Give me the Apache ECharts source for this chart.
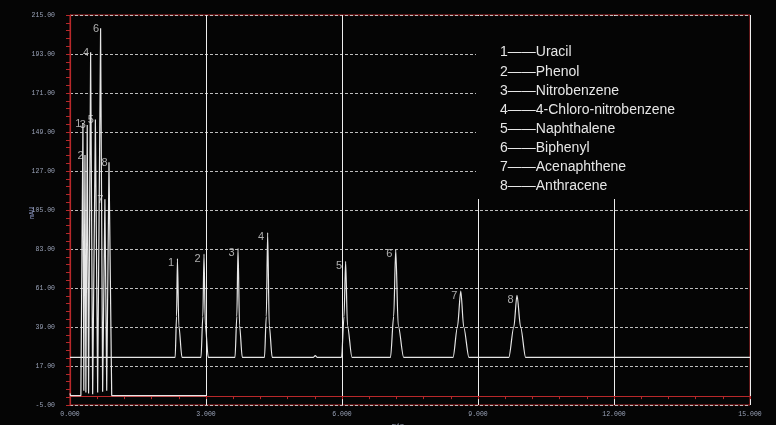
<!DOCTYPE html>
<html>
<head>
<meta charset="utf-8">
<script src="https://cdn.jsdelivr.net/npm/echarts@6/dist/echarts.min.js"></script>
<style>
  html, body { margin: 0; padding: 0; background: #050505; }
  #chart { width: 776px; height: 425px; }
</style>
</head>
<body>
<div id="chart"></div>
<script>
// Peak numbers and compound names
const peakNames = ['1', '2', '3', '4', '5', '6', '7', '8'];
const compounds = ['Uracil', 'Phenol', 'Nitrobenzene', '4-Chloro-nitrobenzene',
  'Naphthalene', 'Biphenyl', 'Acenaphthene', 'Anthracene'];

// Axis ticks and titles
const xTicks = [0, 3, 6, 9, 12, 15];
const yTicks = [-5, 17, 39, 61, 83, 105, 127, 149, 171, 193, 215];
const xTitle = 'min';
const yTitle = 'mAU';

// Fast run (min, mAU)
const fastPeakTime = [0.285, 0.33, 0.38, 0.455, 0.56, 0.675, 0.77, 0.86];
const fastPeakHeight = [154, 136, 153, 194, 156, 207.5, 111, 132];
const fastValleyTime = [0.24, 0.305, 0.35, 0.41, 0.50, 0.61, 0.72, 0.81, 0.92];
const fastValleyHeight = [0.3, 3, 2, 1.5, 1, 2, 2.5, 3, 0.3];
const fastStart = [[0, 1.5], [0.01, 0.3]];
const fastEnd = [[3.0, 0.3]];

// Slow run (min, mAU)
const slowBaseline = 21.9;
const slowPeakTime = [2.37, 2.956, 3.706, 4.36, 6.08, 7.185, 8.62, 9.86];
const slowPeakHeight = [77.6, 80.1, 83.3, 92.3, 76.1, 82.7, 59.3, 56.9];
const slowPeakStart = [2.32, 2.89, 3.64, 4.29, 5.99, 7.07, 8.45, 9.68];
const slowPeakEnd = [2.47, 3.05, 3.80, 4.46, 6.22, 7.36, 8.80, 10.05];
const slowLeftFlankTime = [2.35, 2.93, 3.68, 4.33, 6.045, 7.14, 8.546, 9.79];
const slowLeftFlankHeight = [45, 45, 45, 45, 45, 45, 39, 39];
const slowRightFlankTime = [2.40, 2.985, 3.74, 4.395, 6.12, 7.24, 8.685, 9.94];
const slowRightFlankHeight = [40, 40, 40, 40, 40, 40, 39, 39];
const slowBump = [[5.37, 21.9], [5.41, 22.9], [5.45, 21.9]];

// Build the fast trace: valleys interleaved with apexes
const fastTrace = fastStart.slice();
for (let i = 0; i < fastPeakTime.length; i++) {
  fastTrace.push([fastValleyTime[i], fastValleyHeight[i]]);
  fastTrace.push([fastPeakTime[i], fastPeakHeight[i]]);
}
fastTrace.push([fastValleyTime[fastPeakTime.length], fastValleyHeight[fastPeakTime.length]]);
fastEnd.forEach(p => fastTrace.push(p));

// Build the slow trace
const slowTrace = [[0, slowBaseline]];
for (let i = 0; i < slowPeakTime.length; i++) {
  if (i === 4) slowBump.forEach(p => slowTrace.push(p));
  slowTrace.push([slowPeakStart[i], slowBaseline]);
  slowTrace.push([slowLeftFlankTime[i], slowLeftFlankHeight[i]]);
  slowTrace.push([slowPeakTime[i], slowPeakHeight[i]]);
  slowTrace.push([slowRightFlankTime[i], slowRightFlankHeight[i]]);
  slowTrace.push([slowPeakEnd[i], slowBaseline]);
}
slowTrace.push([15, slowBaseline]);

const fastLabels = fastPeakTime.map((t, i) => ({ value: [t, fastPeakHeight[i]], name: peakNames[i] }));
const slowLabels = slowPeakTime.map((t, i) => ({ value: [t, slowPeakHeight[i]], name: peakNames[i] }));

const legendText = peakNames.map((n, i) => n + '\u2014\u2014' + compounds[i]).join('\n');

const red = '#b8282a';
const tickColor = '#9aa3b8';
const tickFont = { color: tickColor, fontSize: 6.5, fontFamily: 'Liberation Mono' };

const chart = echarts.init(document.getElementById('chart'));
chart.setOption({
  backgroundColor: '#050505',
  animation: false,
  grid: { left: 70, right: 26, top: 15, bottom: 20, show: true, borderColor: red, borderWidth: 1,
    outerBoundsMode: 'none', containLabel: false },
  xAxis: {
    type: 'value', min: xTicks[0], max: xTicks[xTicks.length - 1], interval: xTicks[1] - xTicks[0],
    axisLine: { lineStyle: { color: red, width: 1.2 } },
    axisTick: { lineStyle: { color: red }, length: 3 },
    minorTick: { show: true, splitNumber: 5, length: 3, lineStyle: { color: red } },
    axisLabel: Object.assign({ margin: 6, formatter: v => v.toFixed(3) }, tickFont),
    splitLine: { show: true, lineStyle: { color: '#eeeeee', width: 1 } }
  },
  yAxis: {
    type: 'value', min: yTicks[0], max: yTicks[yTicks.length - 1], interval: yTicks[1] - yTicks[0],
    axisLine: { lineStyle: { color: red, width: 1.2 } },
    axisTick: { lineStyle: { color: red }, length: 4 },
    minorTick: { show: true, splitNumber: 5, length: 4, lineStyle: { color: red } },
    axisLabel: Object.assign({ margin: 15, formatter: v => v.toFixed(2) }, tickFont),
    splitLine: { show: true, lineStyle: { color: '#bdbdbd', width: 1, type: [3, 2] } }
  },
  series: [
    {
      type: 'line', data: fastTrace, showSymbol: false, symbol: 'none',
      lineStyle: { color: '#e6e6e6', width: 1.2 }, silent: true
    },
    {
      type: 'line', data: slowTrace, showSymbol: false, symbol: 'none',
      smooth: 0.3, smoothMonotone: 'x',
      lineStyle: { color: '#e6e6e6', width: 1.2 }, silent: true
    },
    {
      type: 'scatter', data: fastLabels, symbolSize: 1, itemStyle: { color: 'rgba(0,0,0,0)' },
      label: { show: true, formatter: p => p.name, position: [-4, 1], align: 'center', verticalAlign: 'middle',
        color: '#d8d8d8', fontSize: 11, fontFamily: 'Liberation Sans' }
    },
    {
      type: 'scatter', data: slowLabels, symbolSize: 1, itemStyle: { color: 'rgba(0,0,0,0)' },
      label: { show: true, formatter: p => p.name, position: [-6, 5], align: 'center', verticalAlign: 'middle',
        color: '#d8d8d8', fontSize: 11, fontFamily: 'Liberation Sans' }
    }
  ],
  graphic: [
    {
      // legend panel sits over the upper-right gridlines
      type: 'rect', z: 10, shape: { x: 476, y: 16, width: 273, height: 183 },
      style: { fill: '#050505' }, silent: true
    },
    {
      type: 'text', z: 11, left: 500, top: 43,
      style: { text: legendText, fill: '#e6e6e6', fontSize: 14, fontFamily: 'Liberation Sans', lineHeight: 19.14 }
    },
    {
      // y-axis unit, written vertically beside the tick labels
      type: 'text', z: 11, x: 32, y: 213, rotation: Math.PI / 2,
      style: { text: yTitle, fill: '#8a94c0', fontSize: 6.5, fontFamily: 'Liberation Mono',
        align: 'center', verticalAlign: 'middle' }
    },
    {
      type: 'text', z: 11, x: 398, y: 426,
      style: { text: xTitle, fill: tickColor, fontSize: 7, fontFamily: 'Liberation Mono',
        align: 'center', verticalAlign: 'middle' }
    }
  ]
});
</script>
</body>
</html>
